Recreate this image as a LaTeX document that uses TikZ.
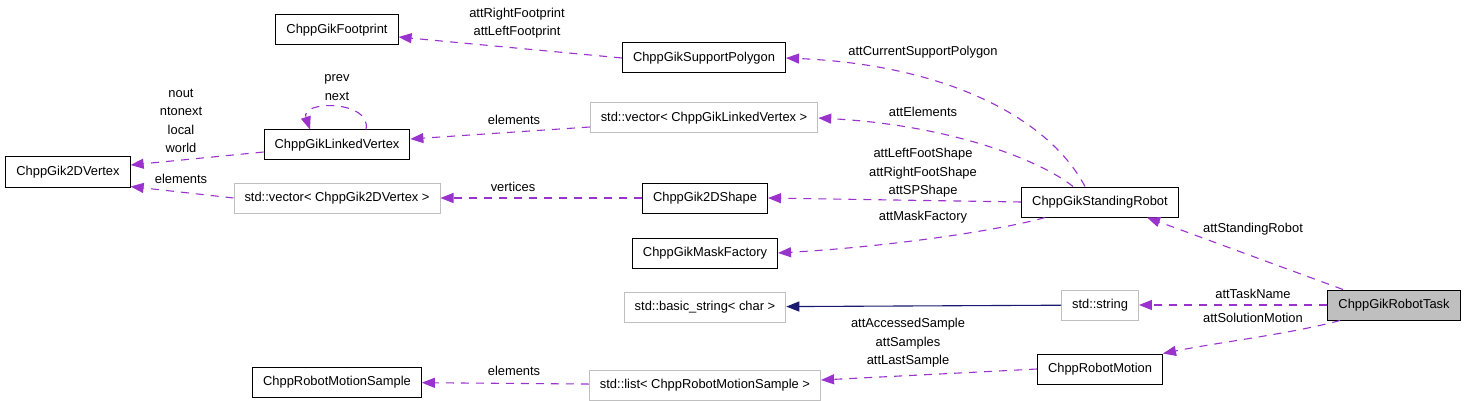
\documentclass[tikz,border=0pt]{standalone}
\usepackage{fontspec}
\setmainfont{Liberation Sans}
\usetikzlibrary{positioning, arrows.meta}
\definecolor{edgepurple}{HTML}{9A32CD}
\definecolor{inhnavy}{HTML}{191970}
\definecolor{extgray}{HTML}{BFBFBF}

\begin{document}
\begin{tikzpicture}[
    x=1pt, y=-1pt,
    font=\fontsize{12.9}{18.4}\selectfont,
    % class boxes
    cls/.style={rectangle, draw=black, line width=1pt, minimum height=30pt, inner xsep=10.5pt, inner ysep=0pt},
    extcls/.style={cls, draw=extgray},
    focus/.style={cls, fill=extgray},
    lbl/.style={align=center, inner sep=0pt},
    % connectors
    uses/.style={-{Triangle[length=13pt, width=10pt]}, draw=edgepurple, line width=1.1pt, dash pattern=on 8pt off 7pt},
    inherit/.style={-{Triangle[length=13pt, width=10pt]}, draw=inhnavy, line width=1.1pt}
]
\useasboundingbox (0,0) rectangle (1467,401);

% ====================
% classes
% ====================
\node[cls] (vtx2d) at (68,172) {ChppGik2DVertex};

\node[cls] (foot) at (337,30) {ChppGikFootprint};
\node[cls] (lvertex) at (337,145) {ChppGikLinkedVertex};
\node[extcls] (vec2d) at (337,198) {std::vector< ChppGik2DVertex >};
\node[cls] (sample) at (337,382) {ChppRobotMotionSample};

\node[cls] (poly) at (704,58) {ChppGikSupportPolygon};
\node[extcls] (veclv) at (704,118) {std::vector< ChppGikLinkedVertex >};
\node[cls] (shape2d) at (705,198) {ChppGik2DShape};
\node[cls, below=24pt of shape2d] (mask) {ChppGikMaskFactory};
\node[extcls, below=23pt of mask] (basicstr) {std::basic\_string< char >};
\node[extcls, below=47pt of basicstr] (samplelist) {std::list< ChppRobotMotionSample >};

\node[cls] (standing) at (1100,202) {ChppGikStandingRobot};
\node[extcls] (stdstr) at (1100,305) {std::string};
\node[cls] (motion) at (1100,369) {ChppRobotMotion};

\node[focus] (task) at (1394,305) {ChppGikRobotTask};

% ====================
% members
% ====================
\draw[uses] (poly.west) -- ([yshift=-7pt]foot.east);
\draw[uses] ([xshift=-15pt]standing.north) .. controls (1050,120) and (950,65) .. (poly.east);
\draw[uses] ([xshift=-27pt]standing.north) .. controls (1040,160) and (950,125) .. (veclv.east);
\draw[uses] ([yshift=-9pt]veclv.west) -- ([yshift=6pt]lvertex.east);
\draw[uses] ([xshift=29pt]lvertex.north) .. controls (372,100) and (300,100) .. ([xshift=-27pt]lvertex.north);
\draw[uses] ([yshift=-7pt]lvertex.west) -- ([yshift=7pt]vtx2d.east);
\draw[uses] (vec2d.west) -- ([yshift=1pt]vtx2d.south east);
\draw[uses] (shape2d.west) -- (vec2d.east);
\draw[uses] (standing.west) -- (shape2d.east);
\draw[uses] ([xshift=-55pt]standing.south) .. controls (1010,228) and (900,246) .. (mask.east);
\draw[uses] ([xshift=-51pt]task.north) -- ([xshift=47pt]standing.south);
\draw[inherit] (stdstr) -- (basicstr);
\draw[uses] (task) -- (stdstr);
\draw[uses] ([xshift=-54pt]task.south) .. controls (1290,334) and (1220,342) .. (motion.north east);
\draw[uses] (motion.west) .. controls (980,372) and (900,376) .. ([yshift=5pt]samplelist.east);
\draw[uses] (samplelist) -- (sample);

% ====================
% member names
% ====================
\node[lbl] (lblfoot) at (517,23) {attRightFootprint\\attLeftFootprint};
\node[lbl] (lblpoly) at (923,52) {attCurrentSupportPolygon};
\node[lbl] (lblveclv) at (923,112) {attElements};
\node[lbl] (lbllv) at (514,120) {elements};
\node[lbl] (lblloop) at (337,87.5) {prev\\next};
\node[lbl] (lblvtx) at (181,121) {nout\\ntonext\\local\\world};
\node[lbl] (lblvec2d) at (181,179) {elements};
\node[lbl] (lblshape) at (513,187) {vertices};
\node[lbl] (lblfootshape) at (923,173) {attLeftFootShape\\attRightFootShape\\attSPShape};
\node[lbl] (lblmask) at (923,217) {attMaskFactory};
\node[lbl] (lblstanding) at (1253,229) {attStandingRobot};
\node[lbl] (lbltaskname) at (1253,294) {attTaskName};
\node[lbl] (lblsolution) at (1253,318) {attSolutionMotion};
\node[lbl] (lblsamples) at (908,343) {attAccessedSample\\attSamples\\attLastSample};
\node[lbl] (lbllist) at (514,371) {elements};

\end{tikzpicture}
\end{document}
